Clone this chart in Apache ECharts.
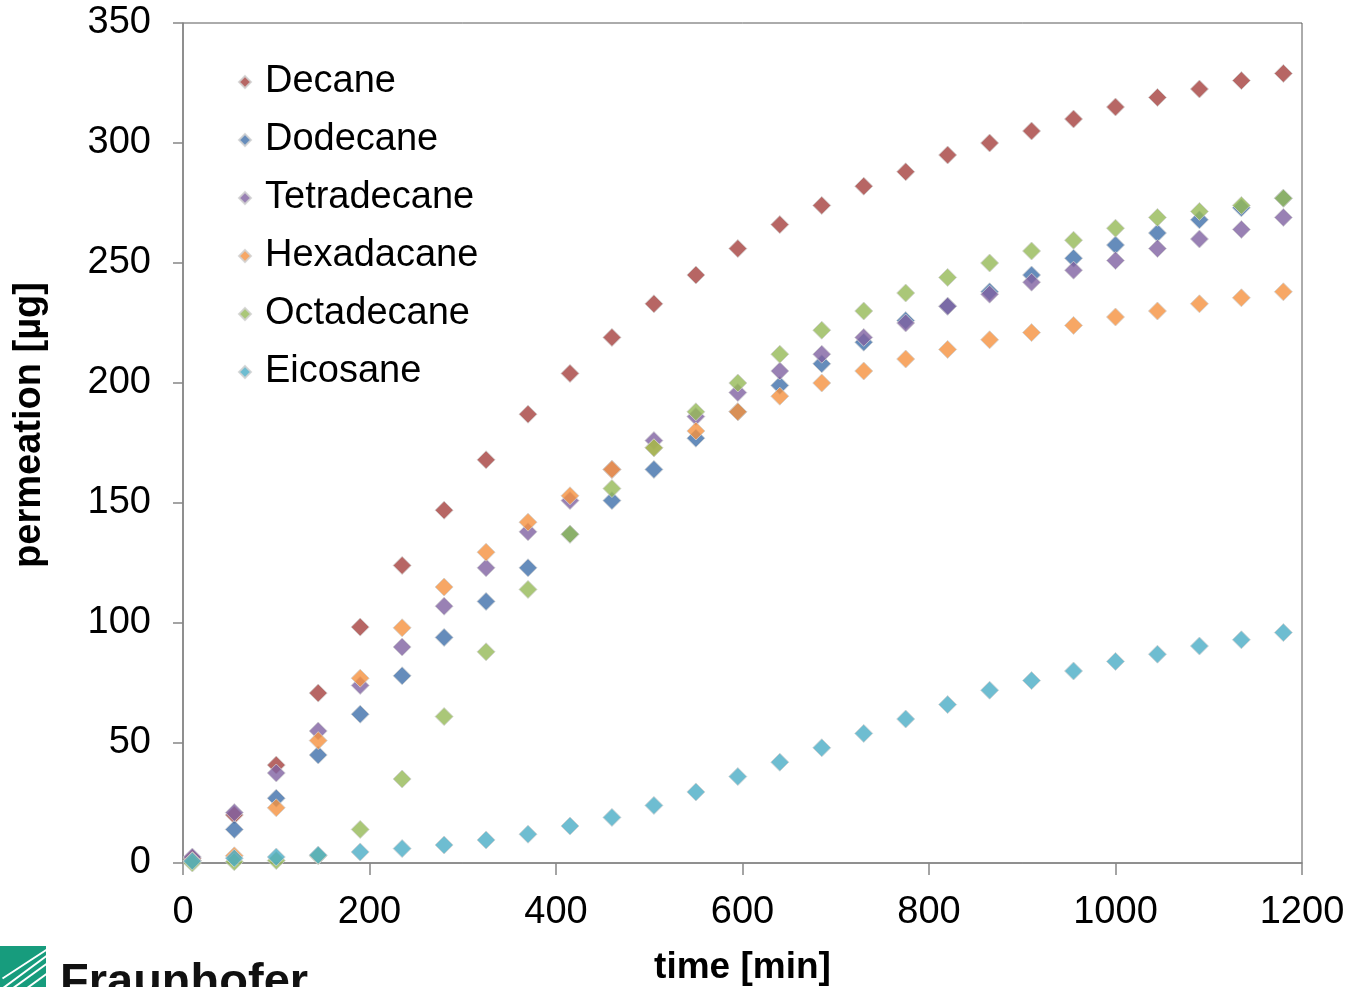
<!DOCTYPE html>
<html>
<head>
<meta charset="utf-8">
<script src="https://cdn.jsdelivr.net/npm/echarts@6/dist/echarts.min.js"></script>
<style>
  html, body { margin: 0; padding: 0; background: #fff; }
  #chart { width: 1350px; height: 987px; }
</style>
</head>
<body>
<div id="chart"></div>
<script>
// sampling times [min]
const times = [10, 55, 100, 145, 190, 235, 280, 325, 370, 415, 460, 505, 550, 595,
  640, 685, 730, 775, 820, 865, 910, 955, 1000, 1045, 1090, 1135, 1180];

// permeation [µg]
const decane = [2, 20, 40.8, 70.8, 98.3, 124, 147, 168, 187, 204, 219, 233, 245, 256,
  266, 274, 282, 288, 295, 300, 305, 310, 315, 319, 322.5, 326, 329];
const dodecane = [1, 14, 27, 45, 62, 78, 94, 109, 123, 137, 151, 164, 177, 188,
  199, 208, 217, 226, 232, 238, 245, 252, 257.5, 262.5, 268, 273, 277];
const tetradecane = [2.5, 21, 37.5, 55, 74, 90, 107, 123, 138, 151, 164, 176, 186, 196,
  205, 212, 219, 225, 232, 237, 242, 247, 251, 256, 260, 264, 269];
const hexadacane = [1, 3, 23, 51, 77, 98, 115, 129.5, 142, 153, 164, 173, 180, 188,
  194.5, 200, 205, 210, 214, 218, 221, 224, 227.5, 230, 233, 235.5, 238];
const octadecane = [0, 0.5, 1, 3, 14, 35, 61, 88, 114, 137, 156, 173, 188, 200,
  212, 222, 230, 237.5, 244, 250, 255, 259.5, 264.5, 269, 271.5, 274, 277];
const eicosane = [0.8, 2, 2.5, 3.3, 4.6, 6, 7.5, 9.6, 12, 15.4, 19, 24, 29.6, 36,
  42, 48, 54, 60, 66, 72, 76, 80, 84, 87, 90.4, 93, 96];

const seriesNames = ["Decane", "Dodecane", "Tetradecane", "Hexadacane", "Octadecane", "Eicosane"];
const seriesValues = [decane, dodecane, tetradecane, hexadacane, octadecane, eicosane];
const colors = ["#a5403d", "#3e6faa", "#7f62a1", "#f5913f", "#95b956", "#4aacc6"];

const xTicks = [0, 200, 400, 600, 800, 1000, 1200];
const yTicks = [0, 50, 100, 150, 200, 250, 300, 350];

const font = "Liberation Sans, Arial, sans-serif";

const chart = echarts.init(document.getElementById("chart"));

const option = {
  backgroundColor: "#ffffff",
  animation: false,
  textStyle: { fontFamily: font },
  grid: {
    left: 183,
    right: 48,
    top: 23,
    bottom: 124,
    outerBoundsMode: "none",
    containLabel: false,
    show: true,
    borderColor: "#595959",
    borderWidth: 1,
  },
  legend: {
    orient: "vertical",
    left: 233,
    top: 57,
    itemGap: 18,
    itemWidth: 12,
    itemHeight: 12,
    icon: "diamond",
    textStyle: { fontSize: 38, lineHeight: 40, color: "#000", fontFamily: font, padding: [0, 0, 0, 9] },
    data: seriesNames,
  },
  xAxis: {
    type: "value",
    min: xTicks[0],
    max: xTicks[xTicks.length - 1],
    interval: 200,
    name: "time [min]",
    nameLocation: "middle",
    nameGap: 86,
    nameTextStyle: { fontSize: 37, fontWeight: "bold", color: "#000", fontFamily: font },
    axisLine: { lineStyle: { color: "#868686", width: 1.5 } },
    axisTick: { show: true, length: 12, inside: false, lineStyle: { color: "#868686", width: 1.5 } },
    axisLabel: { fontSize: 38, color: "#000", margin: 31, fontFamily: font, formatter: (v) => String(v) },
    splitLine: { show: false },
  },
  yAxis: {
    type: "value",
    min: yTicks[0],
    max: yTicks[yTicks.length - 1],
    interval: 50,
    name: "permeation [µg]",
    nameLocation: "middle",
    nameGap: 134,
    nameTextStyle: { fontSize: 38, fontWeight: "bold", color: "#000", fontFamily: font, padding: [0, 0, 0, 36] },
    axisLine: { show: true, lineStyle: { color: "#868686", width: 1.5 } },
    axisTick: { show: true, length: 10, inside: false, lineStyle: { color: "#868686", width: 1.5 } },
    axisLabel: { fontSize: 38, color: "#000", margin: 32, fontFamily: font },
    splitLine: { show: false },
  },
  series: seriesNames.map((name, i) => ({
    name: name,
    type: "scatter",
    symbol: "diamond",
    symbolSize: 18,
    itemStyle: { color: colors[i], borderColor: "#d0d0d0", borderWidth: 1 },
    data: times.map((t, j) => [t, seriesValues[i][j]]),
  })),
  graphic: [
    {
      type: "rect",
      left: 0,
      top: 946,
      shape: { width: 46, height: 42 },
      style: { fill: "#179c7d" },
    },
    {
      type: "group",
      left: 0,
      top: 946,
      children: [
        { type: "line", shape: { x1: 0, y1: 42, x2: 46, y2: 8 }, style: { stroke: "#fff", lineWidth: 2 } },
        { type: "line", shape: { x1: 0, y1: 32, x2: 46, y2: 2 }, style: { stroke: "#fff", lineWidth: 2 } },
        { type: "line", shape: { x1: 10, y1: 42, x2: 46, y2: 16 }, style: { stroke: "#fff", lineWidth: 2 } },
        { type: "line", shape: { x1: 24, y1: 42, x2: 46, y2: 26 }, style: { stroke: "#fff", lineWidth: 2 } },
      ],
    },
    {
      type: "text",
      left: 60,
      top: 960,
      style: {
        text: "Fraunhofer",
        font: "bold 47px " + font,
        fill: "#111",
      },
    },
  ],
};

chart.setOption(option);
</script>
</body>
</html>
